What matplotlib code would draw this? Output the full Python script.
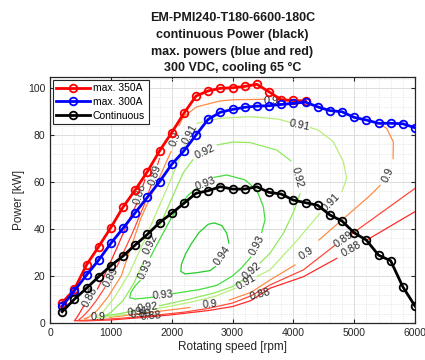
import numpy as np
import matplotlib
matplotlib.use("Agg")
import matplotlib.pyplot as plt
from matplotlib.ticker import MultipleLocator

plt.rcParams['font.family'] = ['Liberation Sans', 'DejaVu Sans']
nan = np.nan

# ---------------- data ----------------
speed = [200, 400, 600, 800, 1000, 1200, 1400, 1600, 1800, 2000,
         2200, 2400, 2600, 2800, 3000, 3200, 3400, 3600, 3800, 4000,
         4200, 4400, 4600, 4800, 5000, 5200, 5400, 5600, 5800, 6000]

p_350 = [8.6, 14.3, 24.7, 32.5, 40.6, 49.3, 56.6, 64.4, 73.2, 81.0,
         89.2, 96.6, 98.8, 99.9, 100.1, 100.7, 101.6, 98.4, 95.0, 94.7,
         94.5]
p_300 = [7.2, 13.7, 20.4, 26.8, 33.9, 40.3, 46.9, 53.5, 60.1, 67.5,
         73.2, 80.0, 86.7, 89.7, 90.9, 91.8, 92.3, 92.5, 93.0, 93.5,
         94.0, 92.0, 90.4, 89.9, 87.5, 86.4, 85.0, 85.0, 84.8, 83.1]
p_cont = [4.8, 10.1, 14.8, 19.7, 24.4, 28.5, 33.2, 37.7, 42.7, 46.7,
          50.9, 55.2, 56.3, 58.0, 57.0, 57.0, 58.0, 55.6, 54.9, 52.3,
          51.2, 50.1, 46.0, 43.4, 38.4, 35.3, 28.9, 26.5, 15.4, 7.2]

# efficiency contour lines (speed [rpm], power [kW]); nan = gap for label
s094 = [2940, 2905, 2823, 2700, 2600, 2450, 2330, 2230, 2160, 2150, 2220, 2410, 2630, 2720]
p094 = [34.0, 38.2, 41.5, 42.6, 42.0, 38.5, 34.0, 29.5, 25.0, 22.0, 20.9, 21.4, 22.3, 24.0]

s093 = [3300, 3150, 3000, 2740, 2450, 2150, 2020, nan, 1700, 1550, 1400, 1310, 1330, 1400, 1480,
        nan, 1650, 1750, 2000, 2274, 2420, nan, 2700, 2905, 3206, 3398, 3507, 3535, 3480]
p093 = [28.0, 23.5, 20.0, 16.0, 14.2, 13.0, 12.5, nan, 11.0, 10.6, 10.2, 10.8, 13.0, 15.8, 18.0,
        nan, 28.0, 33.0, 45.0, 54.5, 57.5, nan, 62.0, 63.0, 60.9, 56.6, 49.5, 44.0, 38.5]

s092 = [1520, 1380, 1200, 1000, 900, 950, 1150, 1400, nan, 1800, 2000, 2300, 2700, 3000, 3180,
        nan, 3450, 3617, 3836, 4000, 4110, nan, 3960, 3727, 3288, 3000, 2750, nan,
        2350, 2192, 2000, 1800]
p092 = [25.0, 17.0, 9.5, 4.5, 3.0, 3.2, 4.0, 5.3, nan, 7.3, 8.5, 10.2, 12.8, 15.5, 18.5,
        nan, 25.5, 29.7, 38.2, 47.0, 55.0, nan, 69.0, 73.6, 76.8, 77.0, 75.8, nan,
        69.5, 64.0, 53.0, 41.0]

s091 = [1800, 1550, 1300, 1050, 880, 760, 800, 950, 1250, nan, 1700, 2300, 2700, 3050,
        nan, 3400, 3617, 4055, 4439, nan, 4800, 4877, 4822, 4658, 4411, 4280, nan,
        3950, 3754, 3288, 2795, 2576, 2420, nan, 2220, 2050, 1800]
p091 = [50.0, 35.0, 21.0, 10.5, 5.0, 2.4, 2.2, 2.6, 3.7, nan, 5.8, 8.8, 11.2, 14.8,
        nan, 19.8, 22.6, 35.0, 46.7, nan, 56.0, 61.6, 68.6, 77.1, 82.1, 83.2, nan,
        85.3, 86.8, 87.8, 87.1, 86.0, 85.0, nan, 75.5, 65.0, 50.0]

s090 = [3850, 3740, nan, 3540, 3480, 3000, 2795, 2412, 2192, 2120, nan, 1990, 1800, 1500, 1170,
        950, 780, 640, 560, 600, nan, 980, 1300, 1800, 2300, nan, 2950, 3300, 3617, 4028,
        nan, 4420, 4987, 5250, 5425, nan, 5640, 5644, 5535, 5400]
p090 = [95.2, 95.0, nan, 95.3, 95.2, 95.0, 94.5, 92.0, 87.8, 84.0, nan, 73.0, 62.0, 45.0, 20.0,
        11.0, 5.5, 2.5, 1.8, 1.8, nan, 2.4, 3.4, 5.0, 6.6, nan, 9.8, 13.0, 18.3, 24.7,
        nan, 35.3, 48.1, 54.0, 58.5, nan, 70.0, 77.1, 82.8, 85.0]

s089 = [1800, 1770, nan, 1660, 1560, 1350, 1100, nan, 900, 760, 640, 540, 480, 470, 520,
        800, 1200, 1700, 2200, 2600, 3000, 3300, 3617, 4165, 4680, nan, 4960, 5014, 6000]
p089 = [70.0, 67.5, nan, 58.5, 51.0, 38.0, 24.0, nan, 15.0, 9.5, 5.5, 2.8, 1.5, 1.1, 1.1,
        1.4, 2.1, 3.2, 4.6, 6.2, 8.5, 11.5, 16.2, 22.6, 33.0, nan, 37.8, 38.9, 57.3]

s088 = [1560, 1530, nan, 1430, 1300, 1100, 900, 780, nan, 560, 470, 420, 400, 550, 1000,
        1500, 2000, 2600, 3000, 3300, 3617, 4165, 4713, nan, 5206, 6000]
p088 = [61.0, 58.5, nan, 51.0, 44.0, 32.0, 20.5, 14.5, nan, 7.5, 3.5, 1.5, 1.0, 0.9, 1.3,
        2.3, 3.5, 5.3, 7.0, 9.5, 14.8, 19.7, 27.5, nan, 35.3, 47.4]

# contour labels
lab_text = ['0.94', '0.93', '0.93', '0.93', '0.93',
            '0.92', '0.92', '0.92', '0.92', '0.92',
            '0.91', '0.91', '0.91', '0.91', '0.91',
            '0.9', '0.9', '0.9', '0.9', '0.9', '0.9',
            '0.89', '0.89', '0.89', '0.89',
            '0.88', '0.88', '0.88', '0.88', '0.88']
lab_s = [2830, 3398, 1560, 1860, 2560,
         1650, 3315, 4060, 2548, 1600,
         2302, 4110, 4620, 3233, 1450,
         3640, 2055, 790, 2630, 4220, 5560,
         1720, 1000, 4830, 1500,
         1480, 665, 4960, 1660, 3450]
lab_p = [28.5, 33.2, 23.0, 11.8, 59.5,
         33.5, 22.0, 62.0, 72.9, 6.6,
         80.5, 84.3, 51.3, 17.3, 4.7,
         94.3, 78.5, 2.6, 8.0, 29.5, 63.0,
         63.0, 19.5, 35.5, 3.6,
         55.0, 11.0, 31.5, 3.0, 12.0]
lab_rot = [55, 62, 65, 5, 20,
           64, 40, -75, 25, 8,
           62, -12, 45, 30, 6,
           0, 70, 0, 5, 33, 66,
           72, 62, 35, 5,
           73, 62, 30, 5, 15]

# ---------------- plot ----------------
fig = plt.figure(figsize=(4.25, 3.6), dpi=100)
ax = fig.add_axes([50 / 425, 37 / 360, 365 / 425, 246 / 360])

contours = [(s088, p088, '#ff2a2a'), (s089, p089, '#ff4a3a'), (s090, p090, '#ff8c45'),
            (s091, p091, '#b8f07a'), (s092, p092, '#90ea5c'), (s093, p093, '#44dd3c'),
            (s094, p094, '#22cc2a')]
for s, p, c in contours:
    ax.plot(s, p, color=c, lw=0.9, zorder=2)

for t, x, y, r in zip(lab_text, lab_s, lab_p, lab_rot):
    ax.text(x, y, t, rotation=r, ha='center', va='center', fontsize=7.8,
            color='#262626', rotation_mode='anchor', zorder=3)

ax.plot(speed[:len(p_350)], p_350, '-o', color='red', lw=2, ms=5.5, mfc='none', mew=1.3,
        label='max. 350A', zorder=4)
ax.plot(speed, p_300, '-o', color='blue', lw=2, ms=5.5, mfc='none', mew=1.3,
        label='max. 300A', zorder=5)
ax.plot(speed, p_cont, '-o', color='black', lw=2, ms=5.5, mfc='none', mew=1.3,
        label='Continuous', zorder=6)

ax.set_xlim(0, 6000)
ax.set_ylim(0, 104.7)
ax.xaxis.set_major_locator(MultipleLocator(1000))
ax.yaxis.set_major_locator(MultipleLocator(20))
ax.xaxis.set_minor_locator(MultipleLocator(200))
ax.yaxis.set_minor_locator(MultipleLocator(4))
ax.grid(True, which='major', color='#dcdcdc', lw=0.7, zorder=0)
ax.grid(True, which='minor', color='#dedede', ls=':', lw=0.6, zorder=0)
ax.set_axisbelow(True)
ax.tick_params(which='major', direction='in', top=True, right=True, length=3,
               labelsize=7.5, colors='#262626', width=0.8)
ax.tick_params(which='minor', length=0)
for sp in ax.spines.values():
    sp.set_color('#262626')
    sp.set_linewidth(0.9)

ax.set_xlabel('Rotating speed [rpm]', fontsize=8.5, color='#262626', labelpad=2)
ax.set_ylabel('Power [kW]', fontsize=8.5, color='#262626', labelpad=2)
ax.set_title('EM-PMI240-T180-6600-180C\ncontinuous Power (black)\n'
             'max. powers (blue and red)\n300 VDC, cooling 65 \u00b0C',
             fontsize=9, fontweight='bold', linespacing=1.52, pad=4, color='#1a1a1a')

leg = ax.legend(loc='upper left', fontsize=7.5, handlelength=3.2, handletextpad=0.3,
                borderpad=0.35, labelspacing=0.35, borderaxespad=0.25,
                fancybox=False, framealpha=1, edgecolor='#262626')
leg.get_frame().set_linewidth(0.8)
leg.set_zorder(10)

fig.savefig('out.png', dpi=100)
